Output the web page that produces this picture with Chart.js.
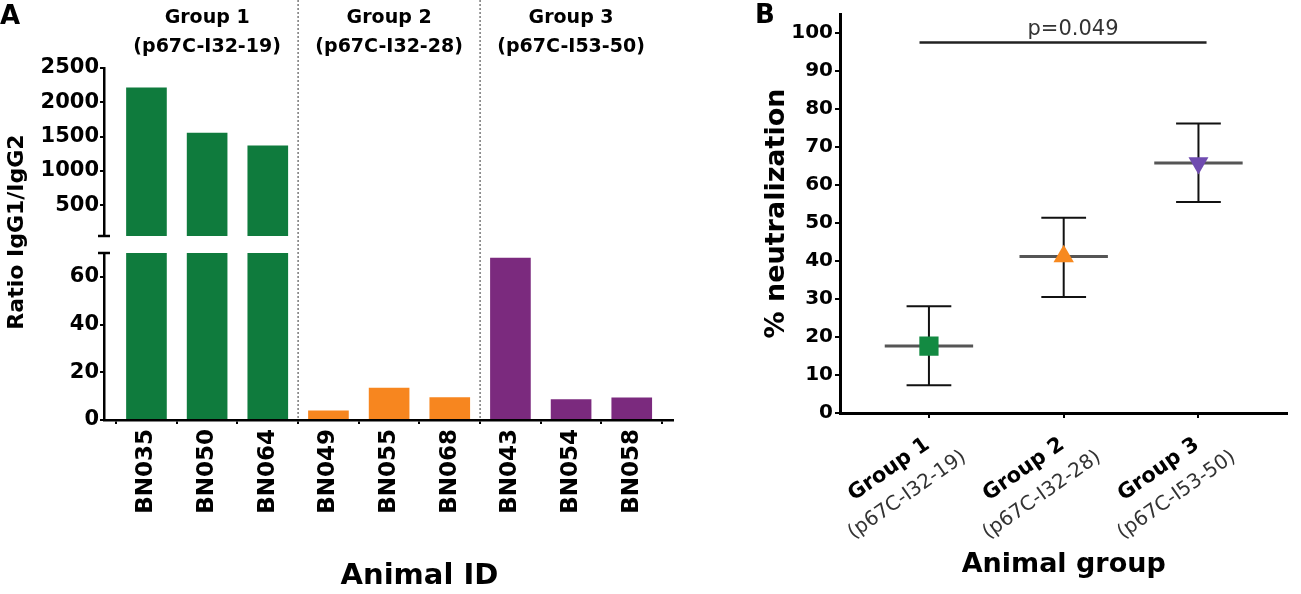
<!DOCTYPE html>
<html>
<head>
<meta charset="utf-8">
<script src="https://cdn.jsdelivr.net/npm/chart.js@4.4.1/dist/chart.umd.min.js"></script>
<style>
html,body{margin:0;padding:0;background:#fff}
#wrap{position:relative;width:1301px;height:594px;overflow:hidden;background:#fff}
#wrap canvas{position:absolute;left:0;top:0}
</style>
</head>
<body>
<div id="wrap">
<canvas id="graficoTopo" width="1301" height="594"></canvas>
<canvas id="graficoBase" width="1301" height="594"></canvas>
<canvas id="graficoNeutra" width="1301" height="594"></canvas>
</div>
<script>
// panel A data
let animalIds=['BN035','BN050','BN064','BN049','BN055','BN068','BN043','BN054','BN058']
let animalGroup=[0,0,0,1,1,1,2,2,2]
let ratioIgG=[2215,1555,1370,4,13.5,9.5,68,8.7,9.4]
let groupNames=['Group 1','Group 2','Group 3']
let groupPeptides=['(p67C-I32-19)','(p67C-I32-28)','(p67C-I53-50)']
let topTicks=[500,1000,1500,2000,2500]
let bottomTicks=[0,20,40,60]

// panel B data
let neutMean=[17.6,41.2,65.8]
let neutUpper=[28.1,51.4,76.2]
let neutLower=[7.3,30.5,55.5]
let neutTicks=[0,10,20,30,40,50,60,70,80,90,100]
let pValueText='p=0.049'
let pValueSpan=[0.93,3.06]
let pValueY=97.5

let fam='"DejaVu Sans", sans-serif'
let barColors=['#0f7b3d','#f7861f','#7b2a7e']
let markColors=['#138a42','#f7891f','#6f4bb0']
let markStyles=['rect','triangle','triangle']
let markRotation=[0,0,180]
let markRadius=[13.6,11.8,11.5]

Chart.defaults.font.family=fam
Chart.defaults.color='#000'

let topMin=50
let bottomMax=70
let xMinA=-0.7
let xMaxA=8.68

function idxTicks(s){
s.ticks=animalIds.map((_,i)=>({value:i}))
}

let axisY={
border:{display:true,color:'#000',width:2.5},
grid:{drawOnChartArea:false,drawTicks:true,tickLength:4,color:'#000',lineWidth:2},
ticks:{font:{size:21,weight:'bold'},color:'#000',padding:1,callback:v=>String(v)},
afterFit:s=>{s.width=104}
}

let capTopo={
id:'capTopo',
afterDraw(c){
let ctx=c.ctx,a=c.chartArea
ctx.save()
ctx.strokeStyle='#000'
ctx.lineWidth=2.5
ctx.beginPath()
ctx.moveTo(a.left-6,a.bottom)
ctx.lineTo(a.left+6,a.bottom)
ctx.stroke()
ctx.restore()
}
}

let graficoTopo=new Chart(document.getElementById('graficoTopo'),{
type:'bar',
data:{
datasets:[{
data:ratioIgG.map((v,i)=>({x:i,y:v>bottomMax?v:null})),
backgroundColor:animalGroup.map(g=>barColors[g]),
borderWidth:0,
barPercentage:0.67,
categoryPercentage:1
}]
},
options:{
responsive:false,
animation:false,
events:[],
layout:{padding:{left:0,right:628,top:68,bottom:358}},
plugins:{legend:{display:false},tooltip:{enabled:false}},
scales:{
x:{type:'linear',display:false,offset:false,min:xMinA,max:xMaxA,afterBuildTicks:idxTicks},
y:Object.assign({},axisY,{
min:topMin,
max:2500,
afterBuildTicks:s=>{s.ticks=topTicks.map(v=>({value:v}))}
})
}
},
plugins:[capTopo]
})

let extrasA={
id:'extrasA',
afterDraw(c){
let ctx=c.ctx,a=c.chartArea,xs=c.scales.x
ctx.save()

ctx.strokeStyle='#000'
ctx.lineWidth=2.5
ctx.beginPath()
ctx.moveTo(a.left-6,a.top)
ctx.lineTo(a.left+6,a.top)
ctx.stroke()

// dotted separators between groups
ctx.setLineDash([2,2])
ctx.strokeStyle='#7a7a7a'
ctx.lineWidth=1.5
for(let i=1;i<animalGroup.length;i++){
if(animalGroup[i]!==animalGroup[i-1]){
let px=xs.getPixelForValue(i-0.5)
ctx.beginPath()
ctx.moveTo(px,0)
ctx.lineTo(px,a.bottom)
ctx.stroke()
}
}
ctx.setLineDash([])

ctx.fillStyle='#000'
ctx.textAlign='center'
ctx.textBaseline='middle'
ctx.font='bold 19px '+fam
groupNames.forEach((g,k)=>{
let idx=animalGroup.map((v,i)=>v===k?i:-1).filter(i=>i>=0)
let px=xs.getPixelForValue((idx[0]+idx[idx.length-1])/2)
ctx.fillText(g,px,18)
ctx.fillText(groupPeptides[k],px,47)
})

ctx.font='bold 26px '+fam
ctx.fillText('A',10,17)

ctx.font='bold 29px '+fam
ctx.fillText('Animal ID',xs.getPixelForValue(animalIds.length/2),576)

ctx.translate(17,232)
ctx.rotate(-Math.PI/2)
ctx.font='bold 22px '+fam
ctx.fillText('Ratio IgG1/IgG2',0,0)
ctx.restore()
}
}

let graficoBase=new Chart(document.getElementById('graficoBase'),{
type:'bar',
data:{
datasets:[{
data:ratioIgG.map((v,i)=>({x:i,y:v})),
backgroundColor:animalGroup.map(g=>barColors[g]),
borderWidth:0,
barPercentage:0.67,
categoryPercentage:1
}]
},
options:{
responsive:false,
animation:false,
events:[],
layout:{padding:{left:0,right:628,top:253,bottom:0}},
plugins:{legend:{display:false},tooltip:{enabled:false}},
scales:{
x:{
type:'linear',
offset:false,
min:xMinA,
max:xMaxA,
afterBuildTicks:idxTicks,
afterFit:s=>{s.height=174},
border:{display:true,color:'#000',width:2.5},
grid:{drawOnChartArea:false,drawTicks:true,tickLength:4,color:'#000',lineWidth:2},
ticks:{
autoSkip:false,
minRotation:90,
maxRotation:90,
padding:5,
color:'#000',
font:{size:23,weight:'bold'},
callback:v=>animalIds[v]
}
},
y:Object.assign({},axisY,{
min:0,
max:bottomMax,
afterBuildTicks:s=>{s.ticks=bottomTicks.map(v=>({value:v}))}
})
}
},
plugins:[extrasA]
})

// error bars for panel B
function seg(x1,y1,x2,y2,color,w){
return{
data:[{x:x1,y:y1},{x:x2,y:y2}],
showLine:true,
borderColor:color,
borderWidth:w,
pointRadius:0,
order:2
}
}

let capW=0.166
let meanW=0.328
let conjuntos=[{
data:neutMean.map((m,i)=>({x:i+1,y:m})),
pointStyle:markStyles,
rotation:markRotation,
pointRadius:markRadius,
pointBackgroundColor:markColors,
pointBorderWidth:0,
showLine:false,
order:0
}]

neutMean.forEach((m,i)=>{
let x=i+1
conjuntos.push(seg(x,neutLower[i],x,neutUpper[i],'#111',2))
conjuntos.push(seg(x-capW,neutUpper[i],x+capW,neutUpper[i],'#111',2))
conjuntos.push(seg(x-capW,neutLower[i],x+capW,neutLower[i],'#111',2))
let mm=seg(x-meanW,m,x+meanW,m,'#555',3)
mm.order=1
conjuntos.push(mm)
})

conjuntos.push(seg(pValueSpan[0],pValueY,pValueSpan[1],pValueY,'#222',2.5))

let extrasB={
id:'extrasB',
afterDraw(c){
let ctx=c.ctx,a=c.chartArea,xs=c.scales.x,ys=c.scales.y
ctx.save()
ctx.fillStyle='#333'
ctx.textAlign='center'
ctx.textBaseline='alphabetic'
ctx.font='21px '+fam
let pm=(xs.getPixelForValue(pValueSpan[0])+xs.getPixelForValue(pValueSpan[1]))/2
ctx.fillText(pValueText,pm+10,ys.getPixelForValue(pValueY)-8)

groupNames.forEach((g,k)=>{
ctx.save()
ctx.translate(xs.getPixelForValue(k+1),a.bottom)
ctx.rotate(-35*Math.PI/180)
ctx.fillStyle='#000'
ctx.font='bold 21px '+fam
ctx.fillText(g,-65,29)
ctx.fillStyle='#333'
ctx.font='20px '+fam
ctx.fillText(groupPeptides[k],-65,60)
ctx.restore()
})

ctx.fillStyle='#000'
ctx.textBaseline='middle'
ctx.font='bold 26px '+fam
ctx.fillText('B',765,16)
ctx.restore()
}
}

let graficoNeutra=new Chart(document.getElementById('graficoNeutra'),{
type:'scatter',
data:{datasets:conjuntos},
options:{
responsive:false,
animation:false,
events:[],
layout:{padding:{left:720,right:7,top:4,bottom:0}},
plugins:{legend:{display:false},tooltip:{enabled:false}},
scales:{
x:{
type:'linear',
min:0.34,
max:3.66,
afterBuildTicks:s=>{s.ticks=groupNames.map((_,i)=>({value:i+1}))},
afterFit:s=>{s.height=181},
border:{display:true,color:'#000',width:3},
grid:{drawOnChartArea:false,drawTicks:true,tickLength:5,color:'#000',lineWidth:2},
ticks:{display:false},
title:{display:true,text:'Animal group',color:'#000',font:{size:27,weight:'bold'},padding:{top:0,bottom:13}}
},
y:{
min:0,
max:105,
afterBuildTicks:s=>{s.ticks=neutTicks.map(v=>({value:v}))},
afterFit:s=>{s.width=120},
border:{display:true,color:'#000',width:3},
grid:{drawOnChartArea:false,drawTicks:true,tickLength:5,color:'#000',lineWidth:2},
ticks:{font:{size:20,weight:'bold'},color:'#000',padding:2},
title:{display:true,text:'% neutralization',color:'#000',font:{size:27,weight:'bold'},padding:{top:41,bottom:0}}
}
}
},
plugins:[extrasB]
})
</script>
</body>
</html>
